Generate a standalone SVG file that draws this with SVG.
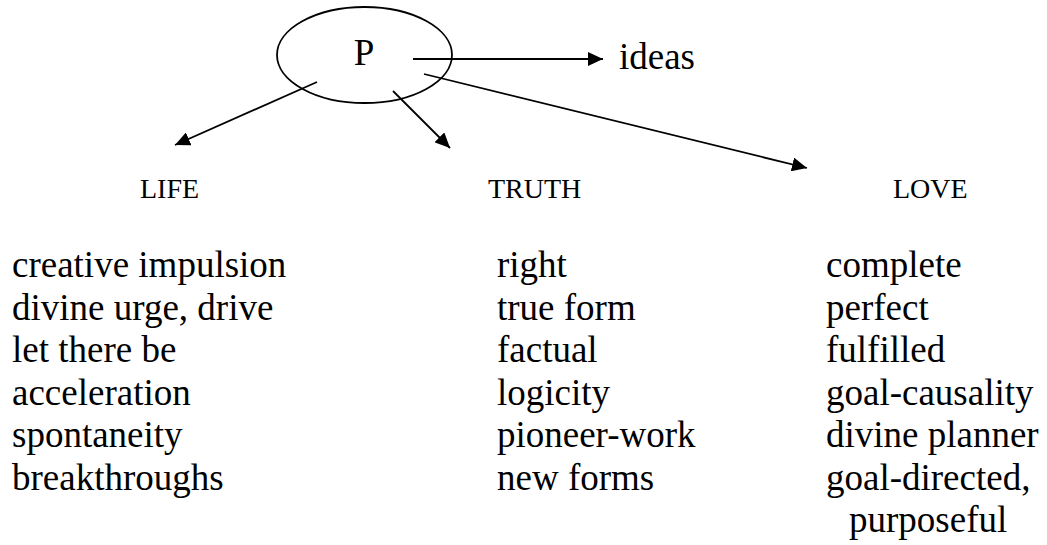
<svg xmlns="http://www.w3.org/2000/svg" width="1047" height="545" viewBox="0 0 1047 545">
<style>
  text { font-family: "Liberation Serif", "Times New Roman", serif; fill: #000; }
  .big { font-size: 37px; }
  .head { font-size: 28px; }
  .conn { stroke: #000; stroke-width: 1.8; fill: none; marker-end: url(#arr); }
</style>
<defs>
  <marker id="arr" markerUnits="userSpaceOnUse" markerWidth="16" markerHeight="14" refX="15" refY="7" orient="auto">
    <path d="M0,0 L15,7 L0,14 z" fill="#000"/>
  </marker>
</defs>
<rect width="1047" height="545" fill="#fff"/>
<g id="node-P">
  <ellipse cx="364.5" cy="55" rx="87.5" ry="48" fill="none" stroke="#000" stroke-width="1.8"/>
  <text class="big" x="364" y="65" text-anchor="middle">P</text>
</g>
<g id="node-ideas">
  <text class="big" x="619" y="69">ideas</text>
</g>
<g id="connectors">
  <line class="conn" x1="413" y1="59" x2="603" y2="59"/>
  <line class="conn" x1="317" y1="82" x2="175" y2="145"/>
  <line class="conn" x1="393" y1="91" x2="450" y2="148"/>
  <line class="conn" x1="424" y1="74" x2="807" y2="168"/>
</g>
<g id="node-life">
  <text class="head" x="140" y="198">LIFE</text>
  <text class="big" x="12" y="277">creative impulsion</text>
  <text class="big" x="12" y="319.5">divine urge, drive</text>
  <text class="big" x="12" y="362">let there be</text>
  <text class="big" x="12" y="404.5">acceleration</text>
  <text class="big" x="12" y="447">spontaneity</text>
  <text class="big" x="12" y="489.5">breakthroughs</text>
</g>
<g id="node-truth">
  <text class="head" x="488" y="198">TRUTH</text>
  <text class="big" x="497" y="277">right</text>
  <text class="big" x="497" y="319.5">true form</text>
  <text class="big" x="497" y="362">factual</text>
  <text class="big" x="497" y="404.5">logicity</text>
  <text class="big" x="497" y="447">pioneer-work</text>
  <text class="big" x="497" y="489.5">new forms</text>
</g>
<g id="node-love">
  <text class="head" x="893" y="198">LOVE</text>
  <text class="big" x="826" y="277">complete</text>
  <text class="big" x="826" y="319.5">perfect</text>
  <text class="big" x="826" y="362">fulfilled</text>
  <text class="big" x="826" y="404.5">goal-causality</text>
  <text class="big" x="826" y="447">divine planner</text>
  <text class="big" x="826" y="489.5">goal-directed,</text>
  <text class="big" x="849" y="532">purposeful</text>
</g>
</svg>
